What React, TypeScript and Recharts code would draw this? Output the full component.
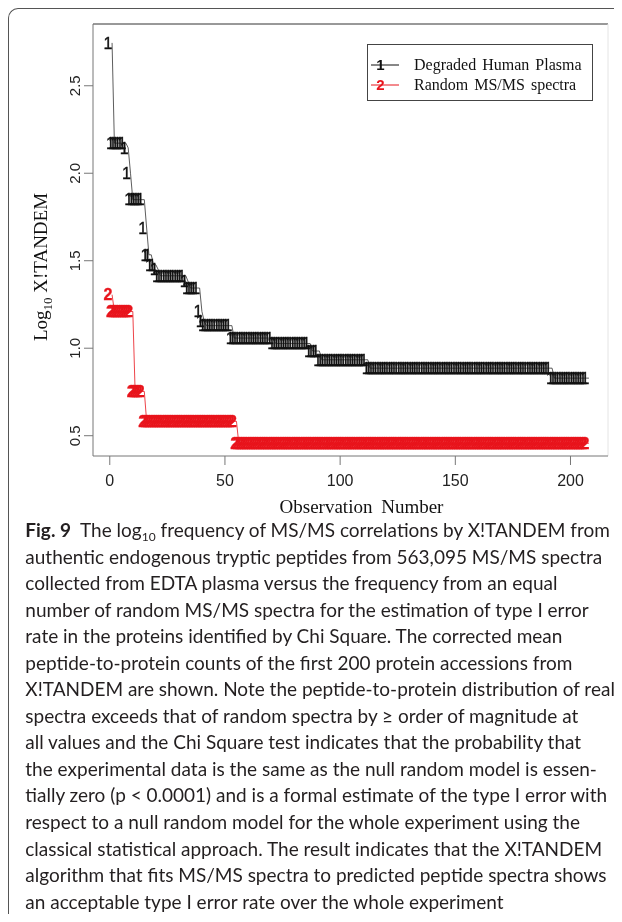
import React from "react";
import { LineChart, Line, XAxis, YAxis, Legend, ReferenceLine } from "recharts";

const blackLevels = [2.745, 2.172, 2.145, 2.0, 1.849, 1.687, 1.534, 1.477, 1.45, 1.414, 1.381, 1.344, 1.21, 1.153, 1.129, 1.058, 1.027, 0.984, 0.934, 0.886, 0.829];
const blackRuns = [1, 6, 1, 1, 6, 1, 2, 2, 1, 12, 1, 5, 1, 1, 12, 18, 16, 4, 21, 80, 16];
const redLevels = [1.306, 1.21, 0.753, 0.582, 0.457];
const redRuns = [1, 9, 5, 40, 153];

const xTicks = [0, 50, 100, 150, 200];
const yTicks = [0.5, 1.0, 1.5, 2.0, 2.5];
const xDomain = [-7.28, 216.28];
const yDomain = [0.384, 2.853];
const seriesNames = ["Degraded Human Plasma", "Random MS/MS spectra"];
const seriesSymbols = ["1", "2"];
const seriesColors = ["#111111", "#e8141c"];

const captionLines = [
  "authentic endogenous tryptic peptides from 563,095 MS/MS spectra",
  "collected from EDTA plasma versus the frequency from an equal",
  "number of random MS/MS spectra for the estimation of type I error",
  "rate in the proteins identified by Chi Square. The corrected mean",
  "peptide-to-protein counts of the first 200 protein accessions from",
  "X!TANDEM are shown. Note the peptide-to-protein distribution of real",
  "spectra exceeds that of random spectra by \u2265 order of magnitude at",
  "all values and the Chi Square test indicates that the probability that",
  "the experimental data is the same as the null random model is essen-",
  "tially zero (p < 0.0001) and is a formal estimate of the type I error with",
  "respect to a null random model for the whole experiment using the",
  "classical statistical approach. The result indicates that the X!TANDEM",
  "algorithm that fits MS/MS spectra to predicted peptide spectra shows",
  "an acceptable type I error rate over the whole experiment",
];

function expandRuns(levels: number[], runs: number[]) {
  const out: { obs: number; value: number }[] = [];
  let obs = 1;
  levels.forEach((v, i) => {
    for (let k = 0; k < runs[i]; k++) {
      out.push({ obs, value: v });
      obs++;
    }
  });
  return out;
}

const blackData = expandRuns(blackLevels, blackRuns);
const redData = expandRuns(redLevels, redRuns);

const SANS = "'Liberation Sans', Arial, Helvetica, sans-serif";
const SERIF = "'Liberation Serif', 'Times New Roman', serif";
const CAPTION = "Lato, 'Open Sans', sans-serif";

const makeGlyph = (ch: string, color: string, bold: boolean) => (props: any) => {
  const { cx, cy, index } = props;
  if (cx == null || cy == null) return <g key={`g${ch}${index}`} />;
  return (
    <text
      key={`g${ch}${index}`}
      x={cx - 4}
      y={cy}
      dy="0.36em"
      textAnchor="middle"
      fontSize={16}
      fontFamily={SANS}
      fontWeight={bold ? 700 : 400}
      fill={color}
      stroke={color}
      strokeWidth={0.35}
    >
      {ch}
    </text>
  );
};

const BlackDot = makeGlyph("1", seriesColors[0], false);
const RedDot = makeGlyph("2", seriesColors[1], true);

const YTick = (props: any) => {
  const { x, y, payload } = props;
  const cx = x + 4;
  return (
    <text
      x={cx}
      y={y}
      transform={`rotate(-90, ${cx}, ${y})`}
      textAnchor="middle"
      dy="0.36em"
      fontSize={15}
      fontFamily={SANS}
      fill="#222"
    >
      {Number(payload.value).toFixed(1)}
    </text>
  );
};

const XTick = (props: any) => {
  const { x, y, payload } = props;
  return (
    <text x={x} y={y} dy="0.71em" textAnchor="middle" fontSize={16} fontFamily={SANS} fill="#222">
      {payload.value}
    </text>
  );
};

const LegendBox = () => (
  <svg width={226} height={57} style={{ display: "block" }}>
    <rect x={0.5} y={0.5} width={225} height={56} fill="#fff" stroke="#444" strokeWidth={1} />
    {seriesNames.map((name, i) => {
      const y = 21 + i * 20;
      return (
        <g key={name}>
          <line x1={4} x2={32} y1={y} y2={y} stroke={seriesColors[i]} strokeWidth={1} />
          <text
            x={13.5}
            y={y}
            dy="0.36em"
            textAnchor="middle"
            fontSize={15}
            fontFamily={SANS}
            fontWeight={700}
            fill={seriesColors[i]}
          >
            {seriesSymbols[i]}
          </text>
          <text x={47} y={y} dy="0.33em" fontSize={16} fontFamily={SERIF} fill="#111" wordSpacing={2}>
            {name}
          </text>
        </g>
      );
    })}
  </svg>
);

export default function App() {
  return (
    <div
      style={{
        position: "relative",
        width: 614,
        height: 914,
        marginBottom: -8,
        boxSizing: "border-box",
        borderTop: "1.5px solid #555",
        borderLeft: "1.5px solid #555",
        borderTopLeftRadius: 10,
        overflow: "visible",
      }}
    >
      <div style={{ position: "absolute", left: -9.5, top: -9.5, willChange: "transform" }}>
        <LineChart width={622} height={520} margin={{ top: 24, right: 14, bottom: 20, left: 0 }}>
          <XAxis
            type="number"
            dataKey="obs"
            domain={xDomain}
            ticks={xTicks}
            allowDataOverflow
            height={44}
            tickSize={9}
            tickMargin={10}
            tick={<XTick />}
            stroke="#777"
            label={{
              content: (p: any) => {
                const vb = p.viewBox;
                return (
                  <text
                    x={vb.x + vb.width / 2 + 11}
                    y={507}
                    dy="0.33em"
                    textAnchor="middle"
                    fontSize={19}
                    fontFamily={SERIF}
                    fill="#111"
                    wordSpacing={4}
                  >
                    Observation Number
                  </text>
                );
              },
            }}
          />
          <YAxis
            type="number"
            domain={yDomain}
            ticks={yTicks}
            allowDataOverflow
            width={93}
            tickSize={9}
            tickMargin={13}
            tick={<YTick />}
            stroke="#777"
            label={{
              content: () => (
                <text
                  x={41}
                  y={267}
                  transform="rotate(-90, 41, 267)"
                  textAnchor="middle"
                  dy="0.33em"
                  fontSize={19}
                  fontFamily={SERIF}
                  fill="#111"
                >
                  Log
                  <tspan fontSize={13} dy="5">10</tspan>
                  <tspan dy="-5"> X!TANDEM</tspan>
                </text>
              ),
            }}
          />
          <ReferenceLine y={yDomain[1]} stroke="#333" strokeWidth={1} />
          <ReferenceLine x={xDomain[1]} stroke="#e4e4e4" strokeWidth={1} />
          <Line
            data={blackData}
            dataKey="value"
            name={seriesNames[0]}
            type="linear"
            stroke="#333"
            strokeWidth={0.8}
            dot={BlackDot}
            activeDot={false}
            isAnimationActive={false}
          />
          <Line
            data={redData}
            dataKey="value"
            name={seriesNames[1]}
            type="linear"
            stroke={seriesColors[1]}
            strokeWidth={0.8}
            dot={RedDot}
            activeDot={false}
            isAnimationActive={false}
          />
          <Legend
            layout="horizontal"
            verticalAlign="middle"
            align="center"
            content={<LegendBox />}
            wrapperStyle={{ position: "absolute", left: 367, top: 44, width: 226, height: 57 }}
          />
        </LineChart>
      </div>
      <div
        style={{
          position: "absolute",
          left: 16.3,
          top: 508,
          fontFamily: CAPTION,
          fontSize: 19,
          lineHeight: "26.55px",
          color: "#231f20",
          whiteSpace: "nowrap",
        }}
      >
        <div>
          <b>Fig. 9</b>
          <span style={{ marginLeft: 9 }}>
            The log<sub style={{ fontSize: 12, verticalAlign: -4, lineHeight: 0 }}>10</sub> frequency of MS/MS
            correlations by X!TANDEM from
          </span>
        </div>
        {captionLines.map((l) => (
          <div key={l}>{l}</div>
        ))}
      </div>
    </div>
  );
}
